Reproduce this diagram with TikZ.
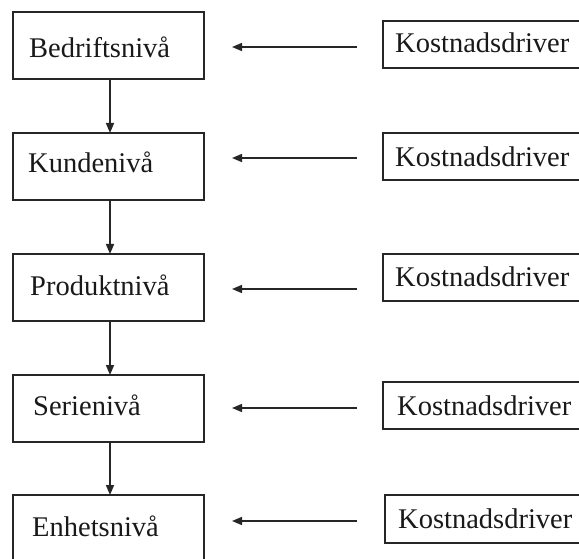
\documentclass[tikz,border=0pt]{standalone}
\usepackage{fontspec}
\setmainfont{Liberation Serif}
\usetikzlibrary{arrows.meta}
\begin{document}
\begin{tikzpicture}[x=1pt,y=-1pt,
  levelbox/.style={draw=black!85, line width=1.6pt, rectangle, anchor=north west,
    minimum width=191pt, inner sep=0pt, outer sep=0pt},
  driverbox/.style={draw=black!85, line width=1.6pt, rectangle, anchor=north west,
    minimum width=230pt, inner sep=0pt, outer sep=0pt},
  lbl/.style={anchor=base west, inner sep=0pt, text=black!90, font=\fontsize{28.5}{34}\selectfont},
  flow/.style={-{Triangle[length=10pt,width=8pt]}, line width=1.5pt, draw=black!85},
  feed/.style={flow, shorten <=26pt, shorten >=28pt}]
\clip (0,0) rectangle (579,559);
\useasboundingbox (0,0) rectangle (579,559);

% cost levels
\node[levelbox, minimum height=67pt] (b1) at (13,12) {};
\node[levelbox, minimum height=67pt] (b2) at (13,133) {};
\node[levelbox, minimum height=67pt] (b3) at (13,254) {};
\node[levelbox, minimum height=67pt] (b4) at (13,375) {};
\node[levelbox, minimum height=90pt] (b5) at (13,495) {};

\node[lbl] (l1) at (29,58) {Bedriftsnivå};
\node[lbl] (l2) at (28,173) {Kundenivå};
\node[lbl] (l3) at (30,295) {Produktnivå};
\node[lbl] (l4) at (33,415) {Serienivå};
\node[lbl] (l5) at (32,536) {Enhetsnivå};

% cost drivers
\node[driverbox, minimum height=47pt] (k1) at (383,21) {};
\node[driverbox, minimum height=47pt] (k2) at (383,133) {};
\node[driverbox, minimum height=47pt] (k3) at (383,254) {};
\node[driverbox, minimum height=47pt] (k4) at (383,382) {};
\node[driverbox, minimum height=48pt] (k5) at (385,495) {};

\node[lbl] (d1) at (395,53) {Kostnadsdriver};
\node[lbl] (d2) at (395,167) {Kostnadsdriver};
\node[lbl] (d3) at (395,287) {Kostnadsdriver};
\node[lbl] (d4) at (397,415) {Kostnadsdriver};
\node[lbl] (d5) at (398,528) {Kostnadsdriver};

% vertical chain
\coordinate (vx) at (110,0);
\draw[flow] (b1.south -| vx) -- (b2.north -| vx);
\draw[flow] (b2.south -| vx) -- (b3.north -| vx);
\draw[flow] (b3.south -| vx) -- (b4.north -| vx);
\draw[flow] (b4.south -| vx) -- (b5.north -| vx);

% driver arrows
\coordinate (a1) at (0,47);
\coordinate (a2) at (0,158);
\coordinate (a3) at (0,289);
\coordinate (a4) at (0,408);
\coordinate (a5) at (0,521);
\draw[feed] (k1.west |- a1) -- (b1.east |- a1);
\draw[feed] (k2.west |- a2) -- (b2.east |- a2);
\draw[feed] (k3.west |- a3) -- (b3.east |- a3);
\draw[feed] (k4.west |- a4) -- (b4.east |- a4);
\draw[feed, shorten <=28pt] (k5.west |- a5) -- (b5.east |- a5);
\end{tikzpicture}
\end{document}
